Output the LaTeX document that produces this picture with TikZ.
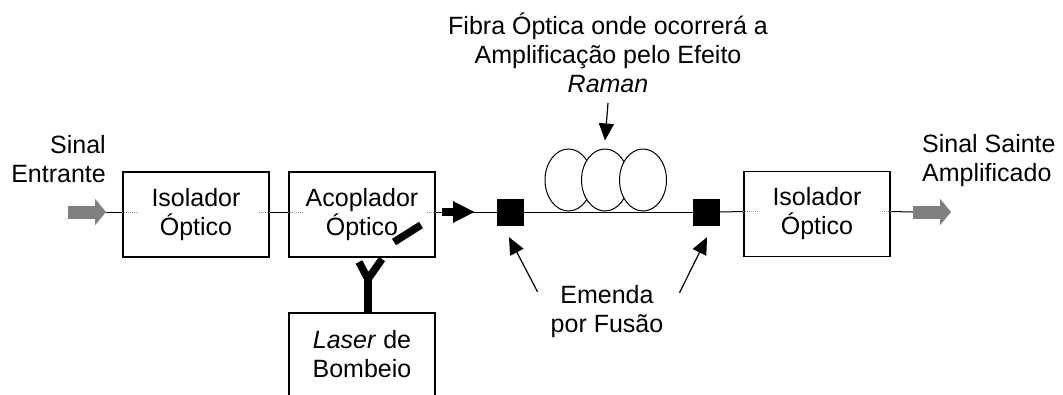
\documentclass[tikz,border=0pt]{standalone}
\usepackage{fontspec}
\setmainfont{Liberation Sans}
\usetikzlibrary{arrows.meta,shapes.geometric,calc}
\definecolor{siggray}{RGB}{128,128,128}
\begin{document}
\begin{tikzpicture}[x=1pt,y=-1pt,
  font=\fontsize{25}{29}\selectfont,
  blk/.style={draw, line width=1.2pt, minimum width=146pt, minimum height=85pt, align=center, inner sep=0pt},
  note/.style={align=center, inner sep=0pt},
  splice/.style={fill=black, minimum size=27pt, inner sep=0pt},
  coil/.style={ellipse, draw, fill=white, line width=1pt, minimum width=47pt, minimum height=62pt, inner sep=0pt},
  fiber/.style={line width=1pt},
  port/.style={gray!80, densely dotted, line width=1pt},
  sig/.style={siggray, line width=13pt, -{Triangle[length=11pt,width=26pt]}},
  launch/.style={line width=8pt, -{Triangle[length=22pt,width=20pt]}},
  pump/.style={line width=7.5pt},
  pointer/.style={line width=1.2pt, -{Triangle[length=17pt,width=15pt]}}]
\clip (0,0) rectangle (1063,394);
% Blocks
\node[blk] (isolin) at (196,214.5) {Isolador\\Óptico};
\node[blk] (acop) at (362,214.5) {Acoplador\\Óptico};
\node[blk] (isolout) at (817,214) {Isolador\\Óptico};
\node[blk, minimum height=83pt] (laser) at (362,354.5) {\textit{Laser} de\\Bombeio};
% Splices and fibre coil
\node[splice] (spl1) at (510.5,212) {};
\node[splice] (spl2) at (706.5,212) {};
\node[coil] (coil1) at (568.5,180) {};
\node[coil] (coil2) at (605,180) {};
\node[coil] (coil3) at (643,180) {};
% Labels
\node[note, anchor=south] (fibnote) at (608,93) {Fibra Óptica onde ocorrerá a\\Amplificação pelo Efeito\\\textit{Raman}};
\node[note, align=right, anchor=south east] (sigin) at (106,183) {Sinal\\Entrante};
\node[note, align=left, anchor=south west] (sigout) at (922,187) {Sinal Sainte\\Amplificado};
\node[note, anchor=south] (splnote) at (607,338) {Emenda\\por Fusão};
% Signal path
\coordinate (inA) at (68,212);
\coordinate (inB) at (106,212);
\coordinate (outA) at (913,212);
\coordinate (outB) at (951,212);
\coordinate (cplA) at (442,212);
\coordinate (cplB) at (475,212);
\draw[sig] (inA) -- (inB);
\draw[fiber] (inB) -- ([yshift=2.5pt]isolin.west);
\draw[fiber] ([yshift=2.5pt]isolin.east) -- ([yshift=2.5pt]acop.west);
\draw[fiber] ([yshift=2.5pt]acop.east) -- (spl1.west);
\draw[fiber] (spl1.east) -- (spl2.west);
\draw[fiber] (spl2.east) -- ([yshift=2.5pt]isolout.west);
\draw[fiber] ([yshift=2.5pt]isolout.east) -- (outA);
\draw[sig] (outA) -- (outB);
\draw[launch] (cplA) -- (cplB);
% Dotted ends inside the blocks
\draw[port] ([yshift=2.5pt]isolin.west) -- ++(15,0);
\draw[port] ([yshift=2.5pt]isolin.east) -- ++(-12,0);
\draw[port] ([yshift=2.5pt]acop.west) -- ++(16,0);
\draw[port] ([yshift=2.5pt]acop.east) -- ++(-10,0);
\draw[port] ([yshift=2.5pt]isolout.west) -- ++(16,0);
\draw[port] ([yshift=2.5pt]isolout.east) -- ++(-10,0);
% Pump input
\coordinate (fork) at (368,279);
\draw[pump] (laser.north -| fork) -- (fork);
\draw[pump] (359,262) -- (fork) -- (382,259);
\draw[pump] (394,242) -- (421,225);
% Annotations
\draw[pointer] ([yshift=-10pt]fibnote.south) -- ([yshift=8pt]coil2.north);
\draw[pointer] ($(splnote.north west)+(-13,6.5)$) -- ($(spl1.south)+(-1.5,11.5)$);
\draw[pointer] ($(splnote.north east)+(16,7.5)$) -- ($(spl2.south)+(0.5,11.5)$);
\end{tikzpicture}
\end{document}
